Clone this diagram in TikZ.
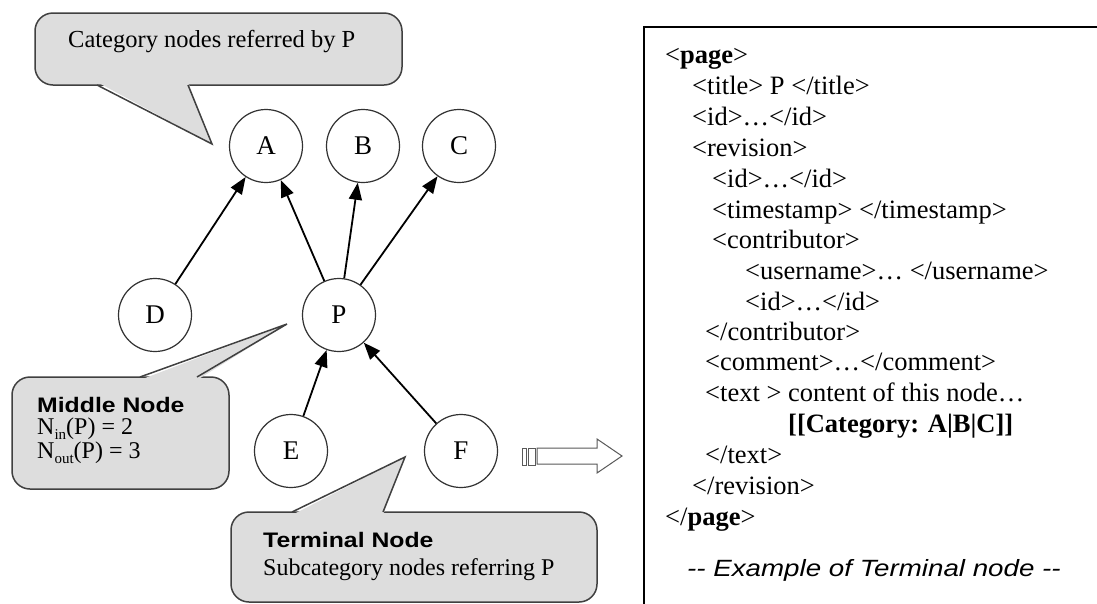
\documentclass[tikz,border=0pt]{standalone}
\usepackage{fontspec}
\setmainfont{Liberation Serif}
\newfontfamily\arialsf[FakeStretch=1.18]{Liberation Sans}
\usetikzlibrary{arrows.meta}
\definecolor{calloutfill}{RGB}{221,221,221}
\definecolor{calloutline}{RGB}{64,64,64}
\definecolor{circline}{RGB}{50,50,50}
\tikzset{
  gnode/.style={circle,draw=circline,line width=1.2pt,minimum size=73pt,inner sep=0pt,font=\fontsize{27}{28}\selectfont},
  garrow/.style={line width=1.8pt,-{Triangle[length=17pt,width=13pt]}},
  callbox/.style={fill=calloutfill,draw=calloutline,line width=1.5pt,rounded corners=18pt},
  callwedge/.style={fill=calloutfill},
  callside/.style={draw=calloutline,line width=1.5pt,line join=miter},
  ctext/.style={anchor=base west,inner sep=0pt,font=\fontsize{24}{26}\selectfont},
  cbold/.style={anchor=base west,inner sep=0pt,font=\arialsf\bfseries\fontsize{21}{24}\selectfont},
  xtext/.style={anchor=base west,inner sep=0pt,font=\fontsize{26.5}{30}\selectfont},
}
\begin{document}
\begin{tikzpicture}[x=1pt,y=-1pt]
\useasboundingbox (0,0) rectangle (1097,603);
\fill[white] (0,0) rectangle (1097,603);

% ---- top callout
\draw[callbox] (35,13) rectangle (402,85);
\fill[callwedge] (97,82) -- (212,144) -- (188,82) -- cycle;
\draw[callside] (97,85) -- (212,144) -- (188,85);
\node[ctext,font=\fontsize{24.5}{26}\selectfont] (t1) at (68,47) {Category nodes referred by P};

% ---- middle callout
\draw[callbox] (12,377) rectangle (229,489);
\fill[callwedge] (140,380) -- (287,324) -- (197,380) -- cycle;
\draw[callside] (140,377) -- (287,324) -- (197,377);
\node[cbold] (m1) at (37,412) {Middle Node};
\node[ctext] (m2) at (37,434) {N\raisebox{-0.22em}{\fontsize{15}{15}\selectfont in}(P) = 2};
\node[ctext] (m3) at (37,458) {N\raisebox{-0.22em}{\fontsize{15}{15}\selectfont out}(P) = 3};

% ---- terminal callout
\draw[callbox] (231,512) rectangle (597,602);
\fill[callwedge] (292,515) -- (405,457) -- (383,515) -- cycle;
\draw[callside] (292,512) -- (405,457) -- (383,512);
\node[cbold] (n1) at (263,547) {Terminal Node};
\node[ctext] (n2) at (263,575) {Subcategory nodes referring P};

% ---- graph
\node[gnode] (A) at (266,146) {A};
\node[gnode] (B) at (363,146) {B};
\node[gnode] (C) at (459,146) {C};
\node[gnode] (D) at (155,315) {D};
\node[gnode] (P) at (339,315) {P};
\node[gnode] (E) at (291,451) {E};
\node[gnode] (F) at (461,451) {F};
\draw[garrow] (D) -- (A);
\draw[garrow] (P) -- (A);
\draw[garrow] (P) -- (B);
\draw[garrow] (P) -- (C);
\draw[garrow] (E) -- (P);
\draw[garrow] (F) -- (P);

% ---- block arrow
\draw[draw=black!65,fill=white,line width=1pt] (522.5,448) rectangle (526,465);
\draw[draw=black!65,fill=white,line width=1pt] (528,448) rectangle (535,465);
\draw[draw=black!65,fill=white,line width=1pt,line join=miter]
  (537,448) -- (597,448) -- (597,439) -- (622,456) -- (597,473) -- (597,464) -- (537,464) -- cycle;

% ---- XML box
\draw[line width=2pt] (1100,27) -- (644,27) -- (644,606);
\node[xtext] (x1) at (665,63) {<\textbf{page}>};
\node[xtext] (x2) at (692,94) {<title> P </title>};
\node[xtext] (x3) at (692,125) {<id>…</id>};
\node[xtext] (x4) at (692,156) {<revision>};
\node[xtext] (x5) at (712,187) {<id>…</id>};
\node[xtext] (x6) at (712,218) {<timestamp> </timestamp>};
\node[xtext] (x7) at (712,248) {<contributor>};
\node[xtext] (x8) at (745,279) {<username>… </username>};
\node[xtext] (x9) at (745,310) {<id>…</id>};
\node[xtext] (x10) at (705,340) {</contributor>};
\node[xtext] (x11) at (705,370) {<comment>…</comment>};
\node[xtext] (x12) at (705,401) {<text > content of this node…};
\node[xtext] (x13) at (788,432) {\textbf{[[Category: A|B|C]]}};
\node[xtext] (x14) at (705,463) {</text>};
\node[xtext] (x15) at (692,494) {</revision>};
\node[xtext] (x16) at (665,525) {</\textbf{page}>};
\node[anchor=base west,inner sep=0pt,font=\arialsf\itshape\fontsize{23.5}{26}\selectfont] (x17) at (687,576) {-{}- Example of Terminal node -{}-};
\end{tikzpicture}
\end{document}
